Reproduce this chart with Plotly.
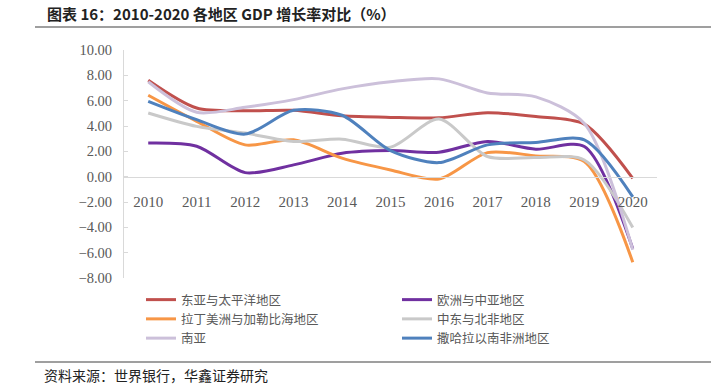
import plotly.graph_objects as go

years = ["2010", "2011", "2012", "2013", "2014", "2015", "2016", "2017", "2018", "2019", "2020"]

east_asia = [7.62, 5.42, 5.20, 5.24, 4.80, 4.68, 4.65, 5.05, 4.75, 4.15, -0.13]
europe = [2.65, 2.40, 0.32, 0.93, 1.85, 2.06, 1.93, 2.78, 2.17, 2.38, -5.69]
latam = [6.43, 4.37, 2.51, 2.91, 1.46, 0.53, -0.19, 1.90, 1.64, 1.19, -6.75]
mena = [5.03, 3.97, 3.44, 2.78, 2.96, 2.33, 4.55, 1.59, 1.51, 1.32, -4.02]
south_asia = [7.49, 5.08, 5.48, 6.08, 6.93, 7.49, 7.72, 6.61, 6.30, 4.20, -5.77]
ssa = [5.95, 4.50, 3.36, 5.24, 4.85, 2.06, 1.11, 2.51, 2.70, 2.91, -1.59]

series = [
    ("东亚与太平洋地区", east_asia, "#C0504D"),
    ("欧洲与中亚地区", europe, "#7030A0"),
    ("拉丁美洲与加勒比海地区", latam, "#F79646"),
    ("中东与北非地区", mena, "#C9C9C9"),
    ("南亚", south_asia, "#CCC0DA"),
    ("撒哈拉以南非洲地区", ssa, "#4F81BD"),
]

title_text = "图表 16：2010-2020 各地区 GDP 增长率对比（%）"
source_text = "资料来源：世界银行，华鑫证券研究"

fig = go.Figure()
for name, vals, color in series:
    fig.add_trace(go.Scatter(
        x=years, y=vals, name=name, mode="lines",
        line=dict(color=color, width=3, shape="spline", smoothing=0.8),
    ))

W, H = 711, 388
ml, mr, mt, mb = 124, 54, 50, 110
PW, PH = W - ml - mr, H - mt - mb


def px_x(x):
    return (x - ml) / PW


def px_y(y):
    return 1 - (y - mt) / PH


fig.update_layout(
    width=W, height=H,
    margin=dict(l=ml, r=mr, t=mt, b=mb),
    paper_bgcolor="white", plot_bgcolor="white",
    showlegend=True,
    legend=dict(
        orientation="h", x=px_x(141), xanchor="left", y=px_y(285), yanchor="top",
        entrywidth=211, entrywidthmode="pixels",
        font=dict(family="Noto Sans CJK SC", size=12.5, color="#595959"),
        itemwidth=30,
    ),
    xaxis=dict(
        type="category", range=[-0.5, 10.5],
        anchor="free", position=8 / 18,
        showline=True, linecolor="#D9D9D9", linewidth=1,
        showgrid=False, ticks="",
        tickfont=dict(family="Liberation Serif", size=15, color="#595959"),
        ticklabelstandoff=11,
        zeroline=False,
    ),
    yaxis=dict(
        range=[-8, 10], dtick=2, tickformat=".2f",
        showline=True, linecolor="#D9D9D9", linewidth=1,
        ticks="inside", ticklen=4, tickcolor="#D9D9D9",
        ticklabelstandoff=8,
        showgrid=False, zeroline=False,
        tickfont=dict(family="Liberation Serif", size=14.5, color="#595959"),
    ),
    font=dict(family="Noto Sans CJK SC"),
)

fig.add_annotation(
    text="<b>" + title_text + "</b>", xref="paper", yref="paper",
    x=px_x(45), y=px_y(14),
    xanchor="left", yanchor="middle", showarrow=False,
    font=dict(family="Noto Sans CJK SC", size=15, color="#222222"),
)
fig.add_annotation(
    text=source_text, xref="paper", yref="paper",
    x=px_x(42), y=px_y(375),
    xanchor="left", yanchor="middle", showarrow=False,
    font=dict(family="Noto Sans CJK SC", size=14, color="#222222"),
)

# separator rules under title and above source
for yy in (27, 362):
    fig.add_shape(type="line", xref="paper", yref="paper",
                  x0=px_x(35), x1=px_x(W), y0=px_y(yy), y1=px_y(yy),
                  line=dict(color="#7F7F7F", width=1.5))

fig.write_html("out.html", post_script="document.body.style.margin='0';",
               config={"displayModeBar": False})
